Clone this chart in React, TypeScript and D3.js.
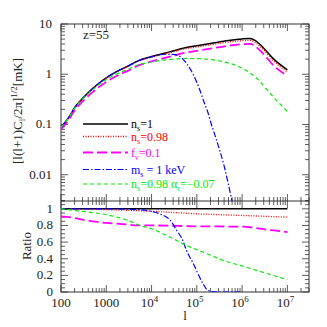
import { useEffect, useRef } from "react";
import * as d3 from "d3";

// multipoles shared by the top-panel curves
const ell = [100, 150, 200, 300, 500, 700, 1e3, 2e3, 3e3, 5e3, 1e4, 2e4, 3e4, 5e4, 1e5, 2e5, 5e5, 1e6, 1.5e6, 2e6, 3e6, 5e6, 1e7];
const nsOne = [0.088, 0.14, 0.215, 0.33, 0.52, 0.67, 0.85, 1.22, 1.45, 1.85, 2.25, 2.65, 2.9, 3.3, 3.7, 4.1, 4.7, 5.05, 5.15, 4.6, 3.3, 2.0, 1.22];
const nsRed = [0.088, 0.139, 0.213, 0.326, 0.513, 0.66, 0.84, 1.2, 1.42, 1.8, 2.18, 2.56, 2.8, 3.17, 3.48, 3.84, 4.38, 4.65, 4.73, 4.22, 3.03, 1.83, 1.1];
const fnu = [0.08, 0.126, 0.19, 0.287, 0.44, 0.56, 0.7, 1.0, 1.17, 1.48, 1.8, 2.12, 2.32, 2.63, 2.92, 3.24, 3.7, 3.97, 4.03, 3.55, 2.5, 1.48, 0.93];

const ellWdm = [100, 150, 200, 300, 500, 700, 1e3, 2e3, 3e3, 5e3, 1e4, 2e4, 3e4, 4.3e4, 5.9e4, 8.4e4, 1.16e5, 1.4e5, 1.7e5, 2.1e5, 2.7e5, 4e5, 6e5, 8e5];
const wdm = [0.088, 0.14, 0.215, 0.33, 0.52, 0.67, 0.85, 1.22, 1.45, 1.84, 2.22, 2.5, 2.49, 2.24, 1.65, 0.97, 0.49, 0.3, 0.19, 0.1, 0.05, 0.015, 0.003, 0.001];

const ellRun = [100, 150, 200, 300, 500, 700, 1e3, 2e3, 3e3, 5e3, 1e4, 2e4, 3e4, 6e4, 1e5, 1.7e5, 3.8e5, 9e5, 2.1e6, 4.8e6, 1e7];
const running = [0.088, 0.139, 0.21, 0.32, 0.49, 0.63, 0.79, 1.08, 1.26, 1.53, 1.75, 1.93, 1.99, 2.06, 2.05, 1.99, 1.78, 1.38, 0.83, 0.36, 0.18];

// ratio panel
const rEllOne = [100, 1e7];
const rOne = [1, 1];
const rEllRed = [100, 1e3, 1e4, 1e5, 1e6, 1e7];
const rRed = [1.0, 0.99, 0.97, 0.94, 0.92, 0.9];
const rEllFnu = [100, 150, 200, 300, 500, 700, 1e3, 2e3, 3e3, 5e3, 1e4, 1e5, 1e6, 2e6, 3e6, 5e6, 1e7];
const rFnu = [0.91, 0.9, 0.89, 0.87, 0.85, 0.84, 0.83, 0.82, 0.81, 0.8, 0.8, 0.79, 0.785, 0.77, 0.755, 0.74, 0.72];
const rEllWdm = [100, 1e3, 5e3, 1e4, 1.5e4, 2.6e4, 3.6e4, 4.9e4, 5.9e4, 8.4e4, 1.1e5, 1.4e5, 1.66e5, 2.1e5, 3e5, 9e5];
const rWdm = [1, 1, 0.99, 0.97, 0.94, 0.86, 0.74, 0.62, 0.5, 0.34, 0.2, 0.09, 0.03, 0.005, 0, 0];
const rEllRun = [100, 200, 300, 500, 1e3, 2e3, 3e3, 5.5e3, 1e4, 3e4, 5.9e4, 1.7e5, 3.8e5, 9e5, 2.1e6, 4.8e6, 1e7];
const rRun = [1.0, 0.98, 0.97, 0.955, 0.93, 0.89, 0.86, 0.8, 0.76, 0.64, 0.56, 0.46, 0.38, 0.32, 0.26, 0.2, 0.15];

const xTicks = [100, 1000, 1e4, 1e5, 1e6, 1e7];
const yTopTicks = [0.01, 0.1, 1, 10];
const yTopLabels = ["0.01", "0.1", "1", "10"];
const ratioTicks = [0, 0.2, 0.4, 0.6, 0.8, 1];

const FONT = "Liberation Serif, Times New Roman, serif";

export default function App() {
  const ref = useRef<SVGSVGElement>(null);

  useEffect(() => {
    const svg = d3.select(ref.current);
    svg.selectAll("*").remove();

    const left = 61, right = 309, top = 24, mid = 201, bottom = 292;
    const x = d3.scaleLog().domain([100, 3e7]).range([left, right]);
    const yTop = d3.scaleLog().domain([0.003, 10]).range([mid, top]);
    const yBot = d3.scaleLinear().domain([0, 1.1]).range([bottom, mid - 0.5]);

    svg.append("clipPath").attr("id", "clipTop")
      .append("rect").attr("x", left).attr("y", top).attr("width", right - left).attr("height", mid - top);
    svg.append("clipPath").attr("id", "clipBot")
      .append("rect").attr("x", left).attr("y", mid).attr("width", right - left).attr("height", bottom - mid);

    const axisColor = "#333";
    const tick = (x1: number, y1: number, x2: number, y2: number) =>
      svg.append("line").attr("x1", x1).attr("y1", y1).attr("x2", x2).attr("y2", y2)
        .attr("stroke", axisColor).attr("stroke-width", 0.8);

    // frame
    svg.append("rect").attr("x", left).attr("y", top).attr("width", right - left).attr("height", bottom - top)
      .attr("fill", "none").attr("stroke", axisColor).attr("stroke-width", 1);
    svg.append("line").attr("x1", left).attr("x2", right).attr("y1", mid).attr("y2", mid)
      .attr("stroke", axisColor).attr("stroke-width", 1);

    // x ticks: top edge, separator, bottom edge
    for (let d = 2; d <= 7; d++) {
      for (let m = 1; m <= 9; m++) {
        const v = m * Math.pow(10, d);
        if (v > 3e7) continue;
        const px = x(v);
        const len = m === 1 ? 7 : 4;
        tick(px, top, px, top + len);
        tick(px, mid - len, px, mid + len);
        tick(px, bottom, px, bottom - len);
      }
    }

    // top-panel y ticks
    for (let d = -3; d <= 1; d++) {
      for (let m = 1; m <= 9; m++) {
        const v = m * Math.pow(10, d);
        if (v < 0.003 || v > 10) continue;
        const py = yTop(v);
        const len = m === 1 ? 7 : 4;
        tick(left, py, left + len, py);
        tick(right, py, right - len, py);
      }
    }
    // ratio y ticks
    d3.range(0, 1.101, 0.05).forEach((v, i) => {
      const py = yBot(v);
      const len = i % 4 === 0 ? 7 : 4;
      tick(left, py, left + len, py);
      tick(right, py, right - len, py);
    });

    // labels
    const label = (tx: number, ty: number, s: string, anchor: string) =>
      svg.append("text").attr("x", tx).attr("y", ty).attr("text-anchor", anchor)
        .style("font-family", FONT).style("font-size", "13px").attr("fill", "#222").text(s);

    yTopTicks.forEach((v, i) => label(52, yTop(v) + 4, yTopLabels[i], "end"));
    ratioTicks.forEach((v) => label(53, yBot(v) + 4, String(v), "end"));
    xTicks.forEach((v) => {
      const e = Math.round(Math.log10(v));
      if (e < 4) {
        label(x(v), 307, String(v), "middle");
      } else {
        const t = svg.append("text").attr("x", x(v) - 2).attr("y", 307).attr("text-anchor", "middle")
          .style("font-family", FONT).style("font-size", "13px").attr("fill", "#222");
        t.append("tspan").text("10");
        t.append("tspan").attr("dy", -5).style("font-size", "9px").text(String(e));
      }
    });

    label(185, 320, "l", "middle");
    label(83, 39, "z=55", "start");

    const ratioTitle = svg.append("text").attr("transform", "translate(31,246) rotate(-90)")
      .attr("text-anchor", "middle").style("font-family", FONT).style("font-size", "13px").attr("fill", "#222");
    ratioTitle.text("Ratio");

    const yTitle = svg.append("text").attr("transform", "translate(22,111) rotate(-90)")
      .attr("text-anchor", "middle").style("font-family", FONT).style("font-size", "13px").attr("fill", "#222");
    yTitle.append("tspan").text("[l(l+1)C");
    yTitle.append("tspan").attr("dy", 3).style("font-size", "9px").text("l");
    yTitle.append("tspan").attr("dy", -3).text("/2π]");
    yTitle.append("tspan").attr("dy", -5).style("font-size", "9px").text("1/2");
    yTitle.append("tspan").attr("dy", 5).text("[mK]");

    const series = [
      { color: "#000000", dash: null, width: 1.5, top: [ell, nsOne], bot: [rEllOne, rOne] },
      { color: "#ff0000", dash: "1 1.5", width: 1.3, top: [ell, nsRed], bot: [rEllRed, rRed] },
      { color: "#ff00ff", dash: "10 4", width: 1.8, top: [ell, fnu], bot: [rEllFnu, rFnu] },
      { color: "#0000ff", dash: "6 2 1.5 2", width: 1.2, top: [ellWdm, wdm], bot: [rEllWdm, rWdm] },
      { color: "#00ee00", dash: "4 3", width: 1.2, top: [ellRun, running], bot: [rEllRun, rRun] },
    ];

    series.forEach((s) => {
      const topPts = s.top[0].map((l, i) => [l, s.top[1][i]] as [number, number]);
      const botPts = s.bot[0].map((l, i) => [l, s.bot[1][i]] as [number, number]);
      const lineTop = d3.line<[number, number]>().x((d) => x(d[0])).y((d) => yTop(d[1])).curve(d3.curveMonotoneX);
      const lineBot = d3.line<[number, number]>().x((d) => x(d[0])).y((d) => yBot(d[1])).curve(d3.curveMonotoneX);
      svg.append("path").attr("d", lineTop(topPts)).attr("clip-path", "url(#clipTop)")
        .attr("fill", "none").attr("stroke", s.color).attr("stroke-width", s.width)
        .attr("stroke-dasharray", s.dash);
      svg.append("path").attr("d", lineBot(botPts)).attr("clip-path", "url(#clipBot)")
        .attr("fill", "none").attr("stroke", s.color).attr("stroke-width", s.width)
        .attr("stroke-dasharray", s.dash);
    });

    // legend
    const legendY = [124, 136.5, 152.5, 169.5, 184];
    const legendText: [string, string, string][][] = [
      [["n", "s", "=1"]],
      [["n", "s", "=0.98"]],
      [["f", "ν", "=0.1"]],
      [["m", "s", " = 1 keV"]],
      [["n", "s", "=0.98  "], ["α", "r", "=−0.07"]],
    ];
    series.forEach((s, i) => {
      svg.append("line").attr("x1", 83).attr("x2", 128).attr("y1", legendY[i]).attr("y2", legendY[i])
        .attr("stroke", s.color).attr("stroke-width", s.width).attr("stroke-dasharray", s.dash);
      const t = svg.append("text").attr("x", 131).attr("y", legendY[i] + 4)
        .style("font-family", FONT).style("font-size", "12px").attr("fill", s.color);
      legendText[i].forEach(([base, sub, rest]) => {
        t.append("tspan").text(base);
        t.append("tspan").attr("dy", 3).style("font-size", "8px").text(sub);
        t.append("tspan").attr("dy", -3).text(rest);
      });
    });
  }, []);

  return (
    <svg ref={ref} width={327} height={327}
      style={{ position: "absolute", left: 0, top: 0, background: "#fff" }} />
  );
}
